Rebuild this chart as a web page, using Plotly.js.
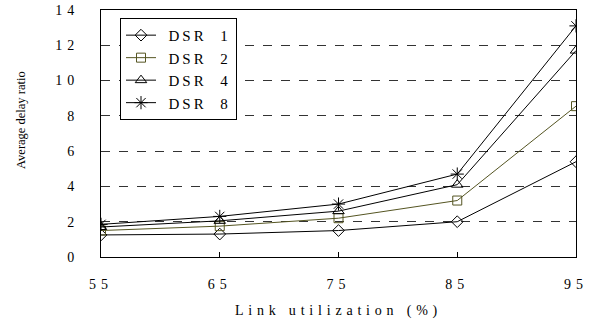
<!DOCTYPE html>
<html><head><meta charset="utf-8">
<script src="https://cdn.plot.ly/plotly-3.0.1.min.js"></script>
<style>html,body{margin:0;padding:0;background:#fff}</style>
</head><body><div id="c" style="width:605px;height:323px"></div>
<script>
const S = '\u00a0';
const xVals = [55, 65, 75, 85, 95];
const xTickText = ['55', '65', '75', '85', '95'];
const yTickVals = [0, 2, 4, 6, 8, 10, 12, 14];
const yTickText = ['0', '2', '4', '6', '8', '10', '12', '14'];
const seriesNames = ['DSR 1', 'DSR 2', 'DSR 4', 'DSR 8'];
const dsr1 = [1.25, 1.3, 1.5, 2.0, 5.4];
const dsr2 = [1.5, 1.75, 2.2, 3.2, 8.55];
const dsr4 = [1.7, 2.05, 2.6, 4.1, 11.7];
const dsr8 = [1.85, 2.3, 3.0, 4.7, 13.1];
const xTitle = 'Link utilization (%)';
const yTitle = 'Average delay ratio';

const ls = (t, px) => '<span style="letter-spacing:' + px + 'px">' + t.replace(/ /g, S) + '</span>';
const FONT = 'Liberation Serif';
const symbols = ['diamond-open', 'square-open', 'triangle-up-open', 'asterisk-open'];
const colors = ['#000000', '#555522', '#000000', '#000000'];
const sizes = [9, 9, 10, 11];
const data = [dsr1, dsr2, dsr4, dsr8].map((ys, i) => ({
  x: xVals, y: ys, name: S + S + ls(seriesNames[i].replace(' ', '  '), 3), type: 'scatter', mode: 'lines+markers',
  line: {color: colors[i], width: 1},
  marker: {symbol: symbols[i], size: sizes[i], color: colors[i], line: {color: colors[i], width: 1}}
}));

const layout = {
  width: 605, height: 323,
  margin: {l: 101, r: 29, t: 10, b: 66},
  paper_bgcolor: '#fff', plot_bgcolor: '#fff',
  font: {family: FONT, color: '#000', size: 14},
  showlegend: true,
  legend: {x: 0.04, y: 0.968, xanchor: 'left', yanchor: 'top', bgcolor: '#fff',
           bordercolor: '#000', borderwidth: 1, font: {family: FONT, size: 15}, tracegroupgap: 0},
  xaxis: {range: [55, 95], tickvals: xVals, ticktext: xTickText.map(t => ls(t, 5)), ticks: 'inside', ticklen: 5,
          tickcolor: '#000', showgrid: false, zeroline: false, showline: true, linecolor: '#000',
          linewidth: 1, mirror: true, tickfont: {family: FONT, size: 14}, ticklabelstandoff: 14,
          title: {text: ls(xTitle, 4.8), font: {family: FONT, size: 14}, standoff: 14}},
  yaxis: {range: [0, 14], tickvals: yTickVals, ticktext: yTickText.map(t => ls(t, 5)), ticks: '',
          showgrid: true, gridcolor: '#333', griddash: 'dash', gridwidth: 1, zeroline: false,
          showline: true, linecolor: '#000', linewidth: 1, mirror: true,
          tickfont: {family: FONT, size: 14}, ticklabelstandoff: 18},
  annotations: [{text: yTitle, textangle: -90, xref: 'paper', yref: 'paper',
                 x: (21 - 101) / 475, y: (257 - 120) / 247, xanchor: 'center', yanchor: 'middle',
                 showarrow: false, font: {family: FONT, size: 12.5, color: '#000'}}]
};
Plotly.newPlot('c', data, layout, {displayModeBar: false, staticPlot: true});
</script></body></html>
